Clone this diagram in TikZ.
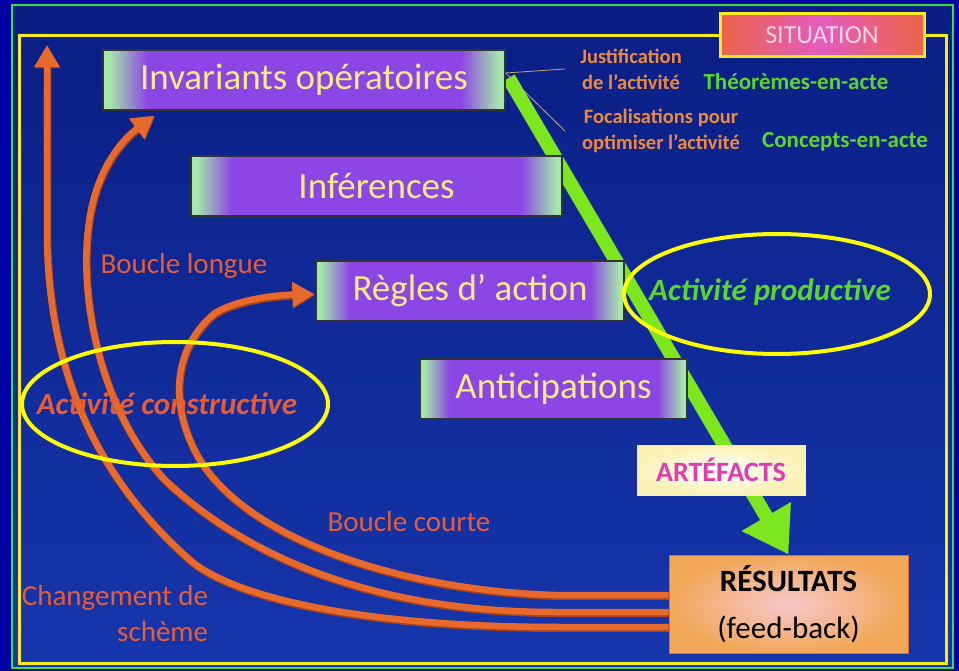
\documentclass[tikz,border=0pt]{standalone}
\usepackage{fontspec}
\setmainfont{Carlito}
\usetikzlibrary{arrows.meta, shapes.geometric}

\definecolor{bgouter}{HTML}{0000A4}
\definecolor{bgtop}{HTML}{0A1E84}
\definecolor{bgmid}{HTML}{0E2A98}
\definecolor{bgbottom}{HTML}{1636AC}
\definecolor{framegreen}{HTML}{3CE03C}
\definecolor{frameyellow}{HTML}{F8EC1C}
\definecolor{boxgreen}{HTML}{A4E6AC}
\definecolor{boxpurple}{HTML}{8C46E6}
\definecolor{boxtext}{HTML}{F6EC84}
\definecolor{loopcol}{HTML}{E8692C}
\definecolor{loopdark}{HTML}{A8431A}
\definecolor{looptext}{HTML}{E85C34}
\definecolor{notetext}{HTML}{F08A38}
\definecolor{actegreen}{HTML}{5CD62A}
\definecolor{arrowgreen}{HTML}{7CE61E}
\definecolor{ringyellow}{HTML}{FFFF00}
\definecolor{sitred}{HTML}{EC6450}
\definecolor{sitpink}{HTML}{E45CC0}
\definecolor{sittext}{HTML}{FFD6E4}
\definecolor{resorange}{HTML}{F2A858}
\definecolor{respink}{HTML}{F6C8CC}
\definecolor{artmagenta}{HTML}{DE3CB2}
\definecolor{artyellow}{HTML}{FAF2B4}
\definecolor{pointer}{HTML}{C8A870}

\pgfdeclarehorizontalshading{boxshade}{100bp}{color(0bp)=(boxgreen); color(25.8bp)=(boxgreen);
  color(30.5bp)=(boxpurple); color(69.5bp)=(boxpurple); color(74.2bp)=(boxgreen); color(100bp)=(boxgreen)}
\pgfdeclarehorizontalshading{sitshade}{100bp}{color(0bp)=(sitred); color(27bp)=(sitred);
  color(50bp)=(sitpink); color(73bp)=(sitred); color(100bp)=(sitred)}

\pgfdeclarelayer{bg}
\pgfdeclarelayer{lines}
\pgfsetlayers{bg,lines,main}

\begin{document}
\begin{tikzpicture}[
  x=1pt, y=-1pt,
  scheme/.style={rectangle, draw=black!80, line width=1.2, shade, shading=boxshade,
                 minimum height=60, inner sep=0, text=boxtext,
                 font=\fontsize{37}{44}\selectfont},
  sitbox/.style={rectangle, draw=frameyellow, line width=3, shade, shading=sitshade,
                 minimum width=204, minimum height=43, inner sep=0, text=sittext,
                 font=\fontsize{26}{30}\selectfont},
  artbox/.style={rectangle, draw=white!85!gray, line width=0.8, inner color=white,
                 outer color=artyellow, minimum width=168, minimum height=50, inner sep=0,
                 text=artmagenta, font=\bfseries\fontsize{28}{32}\selectfont},
  resbox/.style={rectangle, draw=loopcol, line width=1, inner color=respink,
                 outer color=resorange, minimum width=239, minimum height=98, inner sep=0,
                 align=center, font=\fontsize{31}{45}\selectfont},
  ring/.style={ellipse, draw=ringyellow, line width=4, inner sep=0},
  ringtext/.style={inner sep=0, font=\bfseries\itshape\fontsize{31}{36}\selectfont},
  note/.style={inner sep=0, align=center, text=notetext,
               font=\bfseries\fontsize{20.5}{26}\selectfont},
  acte/.style={inner sep=0, text=actegreen, font=\bfseries\fontsize{23}{28}\selectfont},
  looplabel/.style={inner sep=0, text=looptext, font=\fontsize{29}{36}\selectfont},
  feedback/.style={draw=loopcol, line width=6.5, -{Triangle[length=22pt,width=24pt]},
                   preaction={draw=loopdark, line width=7.5,
                              transform canvas={shift={(0.6pt,-1.2pt)}}}}
]
\useasboundingbox (0,0) rectangle (959,671);

% background and frames
\begin{pgfonlayer}{bg}
\fill[bgouter] (0,0) rectangle (959,671);
\shade[top color=bgtop, middle color=bgmid, bottom color=bgbottom] (12,5) rectangle (953,668);
\draw[framegreen, line width=1.5] (12,5) rectangle (953,668);
\draw[frameyellow, line width=3] (19,36) rectangle (946,663);
\end{pgfonlayer}

% schemes
\node[scheme, minimum width=402] (inv)  at (304,80)    {Invariants opératoires};
\node[scheme, minimum width=371] (inf)  at (376.5,186) {Inférences};
\node[scheme, minimum width=308] (regl) at (470,291)   {Règles d’ action};
\node[scheme, minimum width=267] (anti) at (553.5,389) {Anticipations};

\node[sitbox] (sit) at (822,35.5) {SITUATION};
\node[resbox] (res) at (788.5,604) {\textbf{RÉSULTATS}\\[2pt](feed-back)};

\coordinate (top) at (47,45);

% productive activity
\begin{pgfonlayer}{lines}
\draw[arrowgreen, line width=14, -{Triangle[length=44pt,width=54pt]}]
     ([shift={(3pt,2pt)}]inv.east) -- (res.north);
\end{pgfonlayer}
\node[artbox] (art) at (721,470) {ARTÉFACTS};

% feed-back loops
\begin{pgfonlayer}{lines}
\draw[feedback] ([yshift=-23pt]res.west) -- (560,627)
      .. controls (380,627) and (240,602) .. (190,560)
      .. controls (100,480) and (50,380) .. (47,240) -- (top);
\draw[feedback] ([yshift=-8pt]res.west) -- (555,612)
      .. controls (380,612) and (250,560) .. (165,480)
      .. controls (100,410) and (80,300) .. (88,230)
      .. controls (93,180) and (115,145) .. ([shift={(52pt,-5pt)}]inv.south west);
\draw[feedback] ([yshift=9pt]res.west) -- (555,595)
      .. controls (400,590) and (250,540) .. (200,460)
      .. controls (170,410) and (170,350) .. (215,313)
      .. controls (240,298) and (280,295) .. ([shift={(-1pt,-3pt)}]regl.west);
\end{pgfonlayer}

\node[ring, minimum width=306, minimum height=124] (constr) at (175,404) {};
\node[ring, minimum width=306, minimum height=120] (prod) at (777,294) {};
\node[ringtext, text=looptext] (constrtext) at (167,404) {Activité constructive};
\node[ringtext, text=actegreen] (prodtext) at (770,292) {Activité productive};

\node[looplabel] (longue) at (184,266) {Boucle longue};
\node[looplabel] (courte) at (409,522) {Boucle courte};
\node[looplabel, align=right] (chg) at (115,614) {Changement de\\schème};

% justifications
\node[note] (just)  at (631,69)  {Justification\\de l’activité};
\node[note] (focal) at (661,131) {Focalisations pour\\optimiser l’activité};
\node[acte] (theo) at (796,82)  {Théorèmes-en-acte};
\node[acte] (conc) at (845,142) {Concepts-en-acte};

\draw[pointer, line width=0.8] ([yshift=7pt]inv.east) -- ([xshift=-15pt]just.west);
\draw[pointer, line width=0.8] ([yshift=7pt]inv.east) -- ([xshift=-17pt]focal.west);

\end{tikzpicture}
\end{document}
